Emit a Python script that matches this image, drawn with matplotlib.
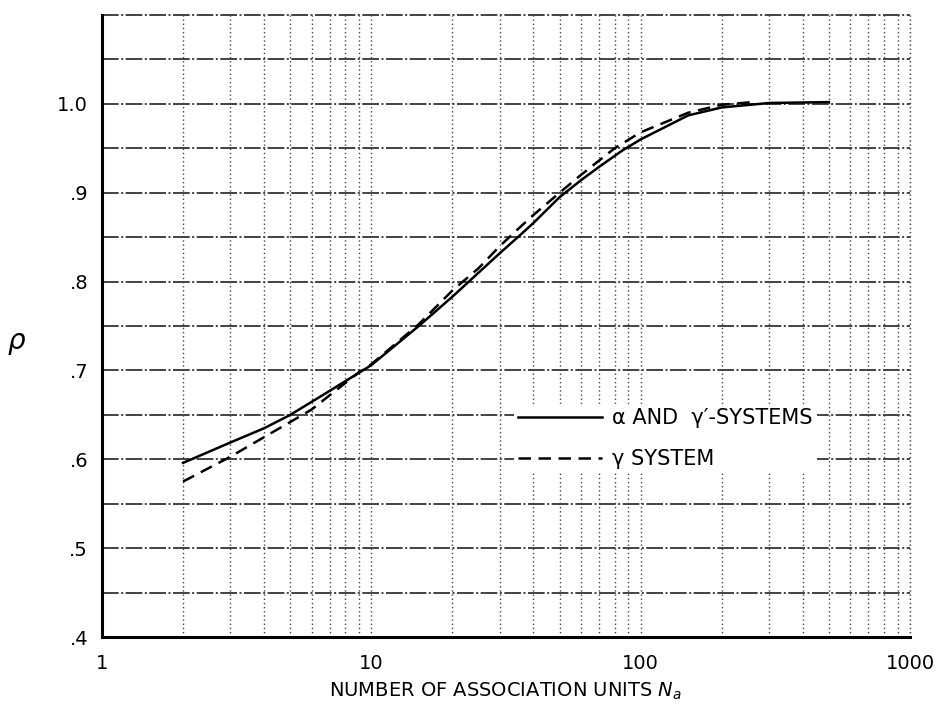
import matplotlib
matplotlib.use("Agg")
import matplotlib.pyplot as plt
from matplotlib.ticker import LogLocator, FixedLocator, NullFormatter

# curve readings
n_alpha = [2, 3, 4, 5, 7, 10, 15, 20, 25, 30, 35, 40, 50, 60, 70, 85, 100, 150, 200, 300, 500]
p_alpha = [0.596, 0.619, 0.635, 0.650, 0.677, 0.706, 0.750, 0.783, 0.810, 0.832, 0.850, 0.866,
           0.895, 0.914, 0.929, 0.947, 0.960, 0.987, 0.996, 1.001, 1.002]
n_gamma = [2, 3, 4, 5, 6, 7, 9, 10, 15, 20, 25, 30, 35, 40, 50, 60, 80, 100, 150, 200, 260]
p_gamma = [0.575, 0.603, 0.625, 0.642, 0.656, 0.672, 0.698, 0.707, 0.752, 0.790, 0.815, 0.840,
           0.859, 0.875, 0.900, 0.920, 0.950, 0.968, 0.990, 0.999, 1.002]

x_ticks = [1, 10, 100, 1000]
x_labels = ["1", "10", "100", "1000"]
y_ticks = [0.4, 0.5, 0.6, 0.7, 0.8, 0.9, 1.0]
y_labels = [".4", ".5", ".6", ".7", ".8", ".9", "1.0"]
y_grid = [0.45, 0.5, 0.55, 0.6, 0.65, 0.7, 0.75, 0.8, 0.85, 0.9, 0.95, 1.0, 1.05, 1.1]

fig = plt.figure(figsize=(9.39, 7.15), dpi=100)
ax = fig.add_axes([0.1086, 0.109, 0.8605, 0.87])

ax.set_xscale("log")
ax.set_xlim(1, 1000)
ax.set_ylim(0.4, 1.1)

# grid: horizontal dash-dot rules, vertical dotted log rules
for yv in y_grid:
    ax.axhline(yv, color="#222222", lw=1.2, ls=(0, (10, 1.5, 1.2, 1.5)), zorder=1, clip_on=False)
ax.xaxis.set_minor_locator(LogLocator(base=10, subs=range(2, 10)))
ax.xaxis.set_minor_formatter(NullFormatter())
ax.grid(True, which="both", axis="x", color="#444444", lw=1.0, ls=(0, (1, 2)), zorder=1)
ax.axvline(1000, color="#444444", lw=1.0, ls=(0, (1, 2)), clip_on=False)

ax.plot(n_alpha, p_alpha, color="black", lw=1.8, zorder=3, label="\u03b1 AND  \u03b3\u2032-SYSTEMS")
ax.plot(n_gamma, p_gamma, color="black", lw=1.8, ls=(0, (5, 3)), zorder=3, label="\u03b3 SYSTEM")

ax.set_xticks(x_ticks)
ax.set_xticklabels(x_labels)
ax.yaxis.set_major_locator(FixedLocator(y_ticks))
ax.set_yticklabels(y_labels)
ax.tick_params(axis="both", which="both", length=0, labelsize=14)
ax.tick_params(axis="x", pad=12)
ax.tick_params(axis="y", pad=10)

for s in ["top", "right"]:
    ax.spines[s].set_visible(False)
for s in ["left", "bottom"]:
    ax.spines[s].set_linewidth(2.2)

ax.set_xlabel("NUMBER OF ASSOCIATION UNITS $\\mathit{N_a}$", fontsize=14, labelpad=6)
ax.set_ylabel("$\\rho$", fontsize=20, rotation=0)
ax.yaxis.set_label_coords(-0.105, 0.45)

leg = ax.legend(loc="upper left", bbox_to_anchor=(0.51, 0.375), fontsize=15, handlelength=4.0,
                frameon=True, facecolor="white", edgecolor="none", framealpha=1.0,
                borderpad=0.2, labelspacing=1.0, handletextpad=0.5, borderaxespad=0)
leg.set_zorder(4)

fig.savefig("out.png", dpi=100)
